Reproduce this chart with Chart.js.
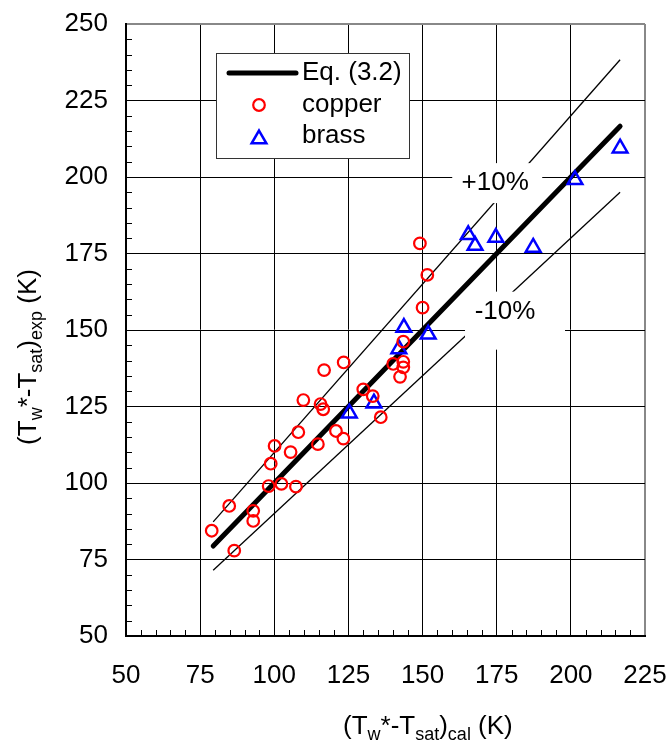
<!DOCTYPE html>
<html>
<head>
<meta charset="utf-8">
<script src="https://cdn.jsdelivr.net/npm/chart.js@4.4.0/dist/chart.umd.min.js"></script>
<style>
  body { margin: 0; background: #fff; }
</style>
</head>
<body>
<canvas id="grafico" width="668" height="742"></canvas>
<script>
// puntos de cobre
var copperX = [78.9, 84.8, 86.5, 92.9, 92.9, 98.1, 98.8, 100.1, 102.4, 105.5, 107.3, 108.1, 114.7, 109.8, 115.6, 116.5,
  116.8, 120.8, 123.3, 123.4, 130.0, 133.2, 135.9, 140.1, 143.5, 143.5, 142.4, 143.5, 150.0, 151.6, 149.1];
var copperY = [84.4, 92.5, 77.9, 90.9, 87.6, 99.0, 106.3, 112.1, 99.7, 110.1, 98.8, 116.6, 112.7, 127.1, 125.8, 124.1,
  136.9, 117.0, 114.5, 139.4, 130.6, 128.4, 121.5, 138.9, 139.6, 137.8, 134.7, 146.2, 157.3, 168.0, 178.3];
// puntos de latón
var brassX = [125.3, 133.6, 142.0, 143.7, 151.9, 165.4, 167.7, 174.7, 187.3, 201.4, 216.6];
var brassY = [122.8, 126.1, 143.8, 150.8, 148.6, 181.1, 177.6, 180.2, 177.0, 199.1, 209.4];
// líneas Eq. (3.2) y +-10%
var lineX = [79.4, 216.6];
var eqY = [79.4, 216.6];
var plusY = [87.3, 238.3];
var minusY = [71.5, 195.0];

var FUENTE = '"Liberation Sans", Arial, sans-serif';

function pares(xs, ys) {
  return xs.map(function (x, i) { return { x: x, y: ys[i] }; });
}

function textoRico(ctx, partes, x, y) {
  partes.forEach(function (p) {
    ctx.font = (p[1] ? '18px ' : '26px ') + FUENTE;
    ctx.fillText(p[0], x, y + (p[1] ? 6 : 0));
    x += ctx.measureText(p[0]).width;
  });
}
function anchoRico(ctx, partes) {
  var w = 0;
  partes.forEach(function (p) {
    ctx.font = (p[1] ? '18px ' : '26px ') + FUENTE;
    w += ctx.measureText(p[0]).width;
  });
  return w;
}

function triangulo(ctx, x, y, r) {
  ctx.beginPath();
  ctx.moveTo(x, y - r);
  ctx.lineTo(x + r * Math.sin(Math.PI * 2 / 3), y - r * Math.cos(Math.PI * 2 / 3));
  ctx.lineTo(x + r * Math.sin(Math.PI * 4 / 3), y - r * Math.cos(Math.PI * 4 / 3));
  ctx.closePath();
  ctx.stroke();
}

function cajaTexto(ctx, texto, cx, cy, x0, x1, y0, y1) {
  ctx.fillStyle = '#fff';
  ctx.fillRect(cx + x0, cy + y0, x1 - x0, y1 - y0);
  ctx.fillStyle = '#000';
  ctx.font = '26px ' + FUENTE;
  ctx.textAlign = 'center';
  ctx.textBaseline = 'middle';
  ctx.fillText(texto, cx, cy);
}

var extras = {
  id: 'extras',
  beforeDatasetsDraw: function (chart) {
    var ctx = chart.ctx, xs = chart.scales.x, ys = chart.scales.y, a = chart.chartArea;
    ctx.save();
    // marcas menores hacia dentro
    ctx.strokeStyle = '#000';
    ctx.lineWidth = 1;
    for (var v = 55; v < 225; v += 5) {
      if (v % 25 === 0) continue;
      var px = Math.round(xs.getPixelForValue(v)) + 0.5;
      ctx.beginPath(); ctx.moveTo(px, a.bottom); ctx.lineTo(px, a.bottom - 6); ctx.stroke();
    }
    for (v = 55; v < 250; v += 5) {
      if (v % 25 === 0) continue;
      var py = Math.round(ys.getPixelForValue(v)) + 0.5;
      ctx.beginPath(); ctx.moveTo(a.left, py); ctx.lineTo(a.left + 6, py); ctx.stroke();
    }
    // leyenda
    var lx = a.left + 90, ly = a.top + 29;
    ctx.fillStyle = '#fff';
    ctx.fillRect(lx, ly, 194, 106);
    ctx.strokeStyle = '#333';
    ctx.lineWidth = 1;
    ctx.strokeRect(lx + 0.5, ly + 0.5, 193, 105);
    ctx.strokeStyle = '#000';
    ctx.lineWidth = 5;
    ctx.lineCap = 'round';
    ctx.beginPath(); ctx.moveTo(lx + 13, ly + 20); ctx.lineTo(lx + 80, ly + 20); ctx.stroke();
    ctx.lineCap = 'butt';
    ctx.strokeStyle = '#f00';
    ctx.lineWidth = 2.2;
    ctx.beginPath(); ctx.arc(lx + 43, ly + 52, 5.8, 0, Math.PI * 2); ctx.stroke();
    ctx.strokeStyle = '#00f';
    ctx.lineWidth = 2.5;
    triangulo(ctx, lx + 43, ly + 86, 8.5);
    ctx.fillStyle = '#000';
    ctx.font = '26px ' + FUENTE;
    ctx.textAlign = 'left';
    ctx.textBaseline = 'alphabetic';
    ctx.fillText('Eq. (3.2)', lx + 86, ly + 27);
    ctx.fillText('copper', lx + 86, ly + 59);
    ctx.fillText('brass', lx + 86, ly + 90);
    ctx.restore();
  },
  beforeDatasetDraw: function (chart, args) {
    if (args.index !== 2) return;
    // cajas blancas de +10% y -10% (tapan rejilla y líneas finas)
    var ctx = chart.ctx, xs = chart.scales.x, ys = chart.scales.y;
    ctx.save();
    cajaTexto(ctx, '+10%', xs.getPixelForValue(174.5), ys.getPixelForValue(198), -43, 47, -20, 20);
    cajaTexto(ctx, '-10%', xs.getPixelForValue(177.8), ys.getPixelForValue(156), -40, 60, -20, 38);
    ctx.restore();
  },
  afterDraw: function (chart) {
    var ctx = chart.ctx;
    ctx.save();
    ctx.fillStyle = '#000';
    ctx.textAlign = 'left';
    ctx.textBaseline = 'alphabetic';
    // titulo eje x
    textoRico(ctx, [['(T', 0], ['w', 1], ['*-T', 0], ['sat', 1], [')', 0], ['cal', 1], [' (K)', 0]], 343, 734);
    // titulo eje y
    var partesY = [['(T', 0], ['w', 1], ['*-T', 0], ['sat', 1], [')', 0], ['exp', 1], [' (K)', 0]];
    var w = anchoRico(ctx, partesY);
    ctx.translate(36, 357);
    ctx.rotate(-Math.PI / 2);
    textoRico(ctx, partesY, -w / 2, 0);
    ctx.restore();
  }
};

var ctx = document.getElementById('grafico').getContext('2d');
var miGrafico = new Chart(ctx, {
  type: 'scatter',
  data: {
    datasets: [{
      label: 'copper',
      data: pares(copperX, copperY),
      pointStyle: 'circle',
      pointRadius: 5.8,
      borderColor: '#ff0000',
      borderWidth: 2.2,
      backgroundColor: 'rgba(0,0,0,0)',
      order: 0
    }, {
      label: 'brass',
      data: pares(brassX, brassY),
      pointStyle: 'triangle',
      pointRadius: 8.5,
      borderColor: '#0000ff',
      borderWidth: 2.5,
      backgroundColor: 'rgba(0,0,0,0)',
      order: 0
    }, {
      label: 'Eq. (3.2)',
      data: pares(lineX, eqY),
      showLine: true,
      borderColor: '#000',
      borderWidth: 5,
      borderCapStyle: 'round',
      pointRadius: 0,
      order: 1
    }, {
      label: '+10%',
      data: pares(lineX, plusY),
      showLine: true,
      borderColor: '#000',
      borderWidth: 1.3,
      pointRadius: 0,
      order: 2
    }, {
      label: '-10%',
      data: pares(lineX, minusY),
      showLine: true,
      borderColor: '#000',
      borderWidth: 1.3,
      pointRadius: 0,
      order: 2
    }]
  },
  options: {
    responsive: false,
    animation: false,
    layout: { padding: { left: 0, top: 24, right: 23, bottom: 0 } },
    plugins: { legend: { display: false }, tooltip: { enabled: false } },
    scales: {
      x: {
        min: 50, max: 225,
        ticks: { stepSize: 25, color: '#000', padding: 24, maxRotation: 0, font: { family: FUENTE, size: 26 } },
        grid: {
          drawTicks: false,
          lineWidth: function (c) { return c.tick && c.tick.value === 225 ? 2 : 1; },
          color: function (c) { return c.tick && c.tick.value === 225 ? '#888' : '#000'; }
        },
        border: { color: '#000', width: 2 },
        afterFit: function (s) { s.height = 106; s.paddingLeft = 0; s.paddingRight = 0; }
      },
      y: {
        min: 50, max: 250,
        ticks: { stepSize: 25, color: '#000', padding: 18, font: { family: FUENTE, size: 26 } },
        grid: {
          drawTicks: false,
          lineWidth: function (c) { return c.tick && c.tick.value === 250 ? 2 : 1; },
          color: function (c) { return c.tick && c.tick.value === 250 ? '#888' : '#000'; }
        },
        border: { color: '#000', width: 2 },
        afterFit: function (s) { s.width = 126; s.paddingTop = 0; s.paddingBottom = 0; }
      }
    }
  },
  plugins: [extras]
});
</script>
</body>
</html>
